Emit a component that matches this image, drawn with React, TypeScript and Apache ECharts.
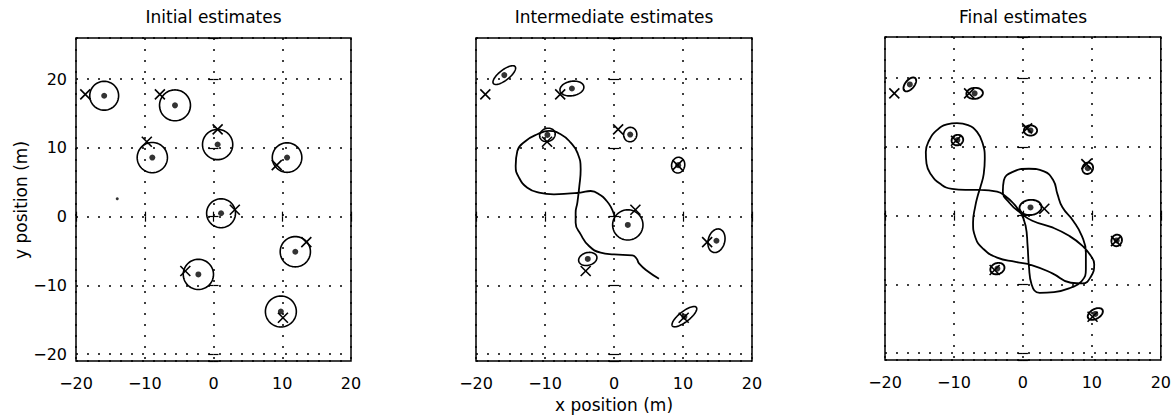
import React, { useEffect, useRef } from 'react';
import * as echarts from 'echarts';

// True landmark positions (x marks)
const landmarkX = [-18.65, -7.8, -9.7, 0.6, 9.2, 3.1, 13.5, -4.1, 10.1];
const landmarkY = [17.8, 17.8, 10.9, 12.7, 7.5, 1.0, -3.7, -7.9, -14.7];

// Initial estimates (dots + circles)
const initialX = [-15.9, -5.6, -8.9, 0.6, 10.7, 1.1, 11.9, -2.2, 9.8];
const initialY = [17.6, 16.2, 8.6, 10.5, 8.6, 0.5, -5.1, -8.4, -13.8];
const initialR = [2.1, 2.25, 2.2, 2.2, 2.15, 2.1, 2.2, 2.2, 2.25];
const strayX = [-14.0];
const strayY = [2.6];

// Intermediate estimates (dots + ellipses)
const intermediateX = [-15.9, -6.1, -9.65, 2.35, 9.3, 2.0, 14.85, -3.8, 10.2];
const intermediateY = [20.6, 18.65, 11.9, 11.95, 7.5, -1.2, -3.5, -6.15, -14.55];
const intermediateA = [2.0, 1.75, 1.15, 1.05, 1.15, 2.2, 1.75, 1.35, 2.2];
const intermediateB = [0.75, 1.05, 0.95, 0.95, 0.95, 2.2, 1.2, 0.92, 0.75];
const intermediateAngle = [38, 10, 20, 80, 80, 0, 75, 15, 38];

// Final estimates
const finalX = [-16.4, -7.0, -9.5, 1.1, 9.4, 1.1, 13.6, -3.7, 10.5];
const finalY = [19.1, 17.8, 11.0, 12.4, 6.9, 1.2, -3.6, -7.7, -14.3];
const finalA = [1.2, 1.2, 0.85, 0.95, 0.85, 1.6, 0.85, 1.05, 1.2];
const finalB = [0.65, 0.8, 0.75, 0.75, 0.75, 1.1, 0.75, 0.8, 0.7];
const finalAngle = [50, 5, 20, 0, 60, 5, 70, 20, 30];

// Vehicle paths
const intermediatePathX = [6.52, 4.83, 3.62, 3.29, 2.66, 0.0, -1.93, -3.62, -4.83, -5.56, -5.56, -5.31, -5.02, -4.83, -5.31, -6.28, -7.73, -9.42, -11.11, -12.8, -14.01, -14.25, -13.77, -12.56, -10.87, -8.7, -6.28, -4.83, -3.38, -1.93, -1.06, -0.48, 0.0];
const intermediatePathY = [-9.03, -7.91, -6.8, -6.12, -5.63, -5.49, -5.24, -4.27, -2.57, -0.87, 0.58, 2.04, 4.47, 6.89, 9.32, 10.78, 11.99, 12.48, 11.99, 11.02, 9.56, 7.38, 5.68, 4.22, 3.5, 3.25, 3.4, 3.5, 3.74, 3.11, 2.28, 1.46, 0.34];

const finalPathX = [-0.34, -1.31, -2.52, -3.74, -6.17, -8.35, -10.29, -11.99, -13.3, -13.98, -14.08, -13.59, -12.48, -11.02, -9.56, -7.96, -6.65, -5.83, -5.53, -5.68, -6.17, -6.55, -6.89, -7.23, -6.89, -5.68, -3.74, -1.07, 1.36, 4.27, 6.94, 8.64, 9.85, 10.34, 9.85, 8.64, 6.7, 4.27, 1.36, -0.34, -1.94, -2.91, -2.77, -1.55, 0.87, 3.06, 4.42, 5.0, 5.73, 7.28, 8.54, 9.13, 9.13, 8.54, 6.94, 4.51, 2.43, 1.26, 0.87, 0.68, 0.39, -0.34];
const finalPathY = [0.39, 1.71, 2.83, 3.51, 3.76, 3.76, 3.9, 4.63, 5.95, 7.56, 9.27, 10.98, 12.44, 13.27, 13.46, 13.17, 12.2, 10.49, 8.29, 6.1, 4.15, 2.9, 1.46, -0.98, -3.17, -4.88, -6.1, -6.73, -7.22, -8.39, -9.76, -9.85, -8.88, -7.07, -5.85, -4.39, -2.93, -1.71, -0.73, 0.39, 1.85, 3.51, 5.12, 6.34, 6.83, 6.44, 5.12, 3.17, 1.22, -0.73, -2.93, -5.37, -7.8, -9.51, -10.49, -11.12, -11.22, -10.0, -7.32, -4.39, -1.46, 0.49];

const titles = ['Initial estimates', 'Intermediate estimates', 'Final estimates'];
const xAxisName = 'x position (m)';
const yAxisName = 'y position (m)';

const FONT = 'DejaVu Sans';
const gridBoxes = [
  { left: 76, top: 38, width: 275, height: 323 },
  { left: 476, top: 38, width: 276, height: 323 },
  { left: 885, top: 37, width: 276, height: 323 },
];
const ellipseWidths = [1.6, 1.6, 1.9];

function makeEllipseRender(lw: number) {
  return function (params: any, api: any) {
    const cx = api.value(0);
    const cy = api.value(1);
    const a = api.value(2);
    const b = api.value(3);
    const ang = (api.value(4) * Math.PI) / 180;
    const pts: number[][] = [];
    const n = 72;
    for (let i = 0; i < n; i++) {
      const t = (i / n) * Math.PI * 2;
      const dx = a * Math.cos(t);
      const dy = b * Math.sin(t);
      pts.push(api.coord([cx + dx * Math.cos(ang) - dy * Math.sin(ang), cy + dx * Math.sin(ang) + dy * Math.cos(ang)]));
    }
    return { type: 'polygon', shape: { points: pts }, style: { fill: 'none', stroke: '#000', lineWidth: lw } };
  };
}

function crossRender(params: any, api: any) {
  const c = api.coord([api.value(0), api.value(1)]);
  const s = 5;
  const st = { stroke: '#000', lineWidth: 1.6 };
  return {
    type: 'group',
    children: [
      { type: 'line', shape: { x1: c[0] - s, y1: c[1] - s, x2: c[0] + s, y2: c[1] + s }, style: st },
      { type: 'line', shape: { x1: c[0] - s, y1: c[1] + s, x2: c[0] + s, y2: c[1] - s }, style: st },
    ],
  };
}

const fmt = (v: number) => (v % 10 === 0 ? String(v).replace('-', '\u2212') : '');

function buildOption() {
  const grid = gridBoxes.map((g) => ({ ...g, show: true, borderColor: '#000', borderWidth: 1.5, backgroundColor: 'transparent' }));
  const split = { show: true, lineStyle: { color: '#000', width: 1.5, type: [2, 9] as any } };
  const tick = { show: true, inside: true, length: 5, lineStyle: { color: '#000', width: 1.2 } };
  const xAxis: any[] = [];
  const yAxis: any[] = [];
  gridBoxes.forEach((_, i) => {
    xAxis.push({
      gridIndex: i, type: 'value', min: -20, max: 20, interval: 10, position: 'bottom',
      axisLine: { show: false }, axisTick: tick, splitLine: split,
      axisLabel: { show: true, margin: 14, fontSize: 16, fontFamily: FONT, color: '#000', formatter: fmt },
    });
    xAxis.push({
      gridIndex: i, type: 'value', min: -20, max: 20, interval: 10, position: 'top',
      axisLine: { show: false }, axisTick: tick, splitLine: { show: false }, axisLabel: { show: false },
    });
    yAxis.push({
      gridIndex: i, type: 'value', min: -21, max: 26, splitNumber: 5, position: 'left',
      axisLine: { show: false }, axisTick: tick, splitLine: split,
      axisLabel: { show: i === 0, margin: 9, fontSize: 16, fontFamily: FONT, color: '#000', formatter: fmt },
    });
    yAxis.push({
      gridIndex: i, type: 'value', min: -21, max: 26, splitNumber: 5, position: 'right',
      axisLine: { show: false }, axisTick: tick, splitLine: { show: false }, axisLabel: { show: false },
    });
  });

  const ellipseSets = [
    initialX.map((x, i) => [x, initialY[i], initialR[i], initialR[i], 0]),
    intermediateX.map((x, i) => [x, intermediateY[i], intermediateA[i], intermediateB[i], intermediateAngle[i]]),
    finalX.map((x, i) => [x, finalY[i], finalA[i], finalB[i], finalAngle[i]]),
  ];
  const landmarks = landmarkX.map((x, i) => [x, landmarkY[i]]);
  const paths = [
    null,
    intermediatePathX.map((x, i) => [x, intermediatePathY[i]]),
    finalPathX.map((x, i) => [x, finalPathY[i]]),
  ];

  const series: any[] = [];
  gridBoxes.forEach((_, i) => {
    const xi = i * 2;
    const yi = i * 2;
    const path = paths[i];
    if (path) {
      series.push({
        type: 'line', xAxisIndex: xi, yAxisIndex: yi, data: path, showSymbol: false,
        smooth: 0.5, lineStyle: { color: '#000', width: 1.8 }, silent: true,
      });
    }
    series.push({
      type: 'custom', xAxisIndex: xi, yAxisIndex: yi, data: ellipseSets[i],
      renderItem: makeEllipseRender(ellipseWidths[i]), encode: { x: 0, y: 1 }, silent: true,
    });
    series.push({
      type: 'scatter', xAxisIndex: xi, yAxisIndex: yi,
      data: ellipseSets[i].map((d) => [d[0], d[1]]), symbol: 'circle', symbolSize: 6,
      itemStyle: { color: '#000' }, silent: true,
    });
    series.push({
      type: 'custom', xAxisIndex: xi, yAxisIndex: yi, data: landmarks,
      renderItem: crossRender, encode: { x: 0, y: 1 }, silent: true,
    });
    if (i === 0) {
      series.push({
        type: 'scatter', xAxisIndex: xi, yAxisIndex: yi,
        data: strayX.map((x, k) => [x, strayY[k]]), symbol: 'circle', symbolSize: 3,
        itemStyle: { color: '#000' }, silent: true,
      });
    }
  });

  const textStyle = (text: string) => ({
    text, fontSize: 17, fontFamily: FONT, fill: '#000',
    textAlign: 'center', textVerticalAlign: 'middle', align: 'center', verticalAlign: 'middle',
  });
  const graphic: any[] = titles.map((t, i) => ({
    type: 'text', x: gridBoxes[i].left + gridBoxes[i].width / 2, y: 16.5, style: textStyle(t), silent: true,
  }));
  graphic.push({ type: 'text', x: 614, y: 405, style: textStyle(xAxisName), silent: true });
  graphic.push({ type: 'text', x: 20.5, y: 200, rotation: Math.PI / 2, style: textStyle(yAxisName), silent: true });

  return { animation: false, backgroundColor: '#fff', grid, xAxis, yAxis, series, graphic };
}

export default function App() {
  const ref = useRef<HTMLDivElement>(null);
  useEffect(() => {
    if (!ref.current) return;
    const chart = echarts.init(ref.current, undefined, { renderer: 'svg' });
    chart.setOption(buildOption() as any);
    return () => chart.dispose();
  }, []);
  return (
    <div
      ref={ref}
      style={{ position: 'absolute', left: 0, top: 0, width: 1174, height: 419, background: '#fff' }}
    />
  );
}
